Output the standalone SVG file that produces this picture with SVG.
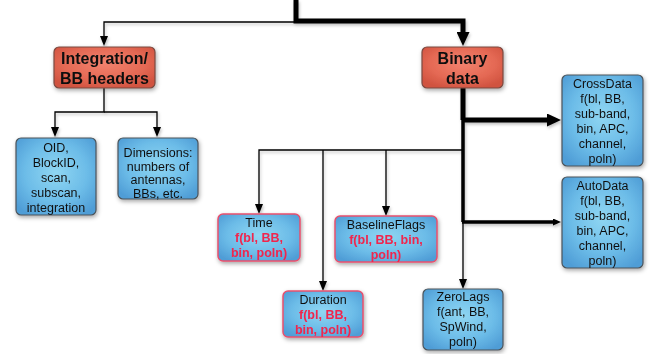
<svg xmlns="http://www.w3.org/2000/svg" width="652" height="354" viewBox="0 0 652 354">
  <defs>
    <radialGradient id="gBlue" cx="50%" cy="45%" r="65%">
      <stop offset="0" stop-color="#8fd6f2"/>
      <stop offset="0.6" stop-color="#6cbce8"/>
      <stop offset="1" stop-color="#4f9dd6"/>
    </radialGradient>
    <radialGradient id="gRed" cx="50%" cy="40%" r="65%">
      <stop offset="0" stop-color="#f2826e"/>
      <stop offset="0.6" stop-color="#e56a55"/>
      <stop offset="1" stop-color="#d0523f"/>
    </radialGradient>
    <filter id="shadow" x="-20%" y="-20%" width="150%" height="150%">
      <feDropShadow dx="1" dy="2" stdDeviation="2" flood-color="#000" flood-opacity="0.35"/>
    </filter>
    <filter id="lineShadow" x="-5%" y="-5%" width="110%" height="110%">
      <feDropShadow dx="1" dy="2" stdDeviation="1.5" flood-color="#000" flood-opacity="0.25"/>
    </filter>
    <marker id="arrowThin" viewBox="0 0 10 8" refX="0" refY="4" markerWidth="10" markerHeight="8" markerUnits="userSpaceOnUse" orient="auto">
      <path d="M0,0 L10,4 L0,8 z" fill="#000"/>
    </marker>
    <marker id="arrowThick" viewBox="0 0 14 13" refX="0" refY="6.5" markerWidth="14" markerHeight="13" markerUnits="userSpaceOnUse" orient="auto">
      <path d="M0,0 L14,6.5 L0,13 z" fill="#000"/>
    </marker>
    <marker id="arrowSmall" viewBox="0 0 8 7" refX="0" refY="3.5" markerWidth="8" markerHeight="7" markerUnits="userSpaceOnUse" orient="auto">
      <path d="M0,0 L8,3.5 L0,7 z" fill="#000"/>
    </marker>
  </defs>
  <style>
    .box { filter: url(#shadow); }
    .blue { fill: url(#gBlue); stroke: #4c545a; stroke-width: 1.2; }
    .red { fill: url(#gRed); stroke: #7a4a40; stroke-width: 1.2; }
    .pink { fill: url(#gBlue); stroke: #e8506e; stroke-width: 1.5; }
    text { font-family: "Liberation Sans", Arial, Helvetica, sans-serif; text-anchor: middle; }
    .title { font-size: 16px; font-weight: bold; fill: #111; }
    .lbl { font-size: 12.5px; fill: #111; }
    .fn { font-size: 12.5px; font-weight: bold; fill: #f0254d; }
    .thin { fill: none; stroke: #000; stroke-width: 1.3; }
    .thick { fill: none; stroke: #000; stroke-width: 5; }
    .mid { fill: none; stroke: #000; stroke-width: 3.5; }
  </style>

  <!-- connectors -->
  <g id="connectors" filter="url(#lineShadow)">
    <path class="thin" d="M296,22 H104 V36" marker-end="url(#arrowThin)"/>
    <path class="thick" d="M296,0 V21 H463 V32" marker-end="url(#arrowThick)"/>
    <path class="thin" d="M104,88 V112 H55 V127" marker-end="url(#arrowThin)"/>
    <path class="thin" d="M104,112 H157 V127" marker-end="url(#arrowThin)"/>
    <path class="thick" d="M463,88 V120"/>
    <path class="thick" d="M463,120 H547" marker-end="url(#arrowThick)"/>
    <path class="mid" d="M463,118 V222"/>
    <path class="mid" d="M462,222 H553" marker-end="url(#arrowSmall)"/>
    <path class="thin" d="M463,222 V279" marker-end="url(#arrowThin)"/>
    <path class="thin" d="M463,150 H259 V204" marker-end="url(#arrowThin)"/>
    <path class="thin" d="M323,150 V281" marker-end="url(#arrowThin)"/>
    <path class="thin" d="M386,150 V206" marker-end="url(#arrowThin)"/>
  </g>

  <!-- header nodes -->
  <g id="integration" class="box">
    <rect class="red" x="54" y="47" width="101" height="41" rx="5"/>
    <text class="title" x="104.5" y="63.5">Integration/</text>
    <text class="title" x="104.5" y="83.5">BB headers</text>
  </g>
  <g id="binary" class="box">
    <rect class="red" x="422" y="47" width="81" height="41" rx="5"/>
    <text class="title" x="462.5" y="63.5">Binary</text>
    <text class="title" x="462.5" y="83.5">data</text>
  </g>

  <!-- integration children -->
  <g id="oid" class="box">
    <rect class="blue" x="16" y="138" width="80" height="77" rx="5"/>
    <text class="lbl" x="56" y="151.5">OID,</text>
    <text class="lbl" x="56" y="166.5">BlockID,</text>
    <text class="lbl" x="56" y="181.5">scan,</text>
    <text class="lbl" x="56" y="196.5">subscan,</text>
    <text class="lbl" x="56" y="211.5">integration</text>
  </g>
  <g id="dimensions" class="box">
    <rect class="blue" x="118" y="138" width="80" height="61" rx="5"/>
    <text class="lbl" x="158" y="157">Dimensions:</text>
    <text class="lbl" x="158" y="170.5">numbers of</text>
    <text class="lbl" x="158" y="184">antennas,</text>
    <text class="lbl" x="158" y="197.5">BBs, etc.</text>
  </g>

  <!-- binary children -->
  <g id="crossdata" class="box">
    <rect class="blue" x="562" y="75" width="81" height="91" rx="5"/>
    <text class="lbl" x="602.5" y="88">CrossData</text>
    <text class="lbl" x="602.5" y="103">f(bl, BB,</text>
    <text class="lbl" x="602.5" y="118">sub-band,</text>
    <text class="lbl" x="602.5" y="133">bin, APC,</text>
    <text class="lbl" x="602.5" y="148">channel,</text>
    <text class="lbl" x="602.5" y="163">poln)</text>
  </g>
  <g id="autodata" class="box">
    <rect class="blue" x="562" y="177" width="81" height="91" rx="5"/>
    <text class="lbl" x="602.5" y="189.5">AutoData</text>
    <text class="lbl" x="602.5" y="204.5">f(bl, BB,</text>
    <text class="lbl" x="602.5" y="219.5">sub-band,</text>
    <text class="lbl" x="602.5" y="234.5">bin, APC,</text>
    <text class="lbl" x="602.5" y="249.5">channel,</text>
    <text class="lbl" x="602.5" y="264.5">poln)</text>
  </g>
  <g id="time" class="box">
    <rect class="pink" x="218" y="214" width="82" height="47" rx="5"/>
    <text class="lbl" x="259" y="227">Time</text>
    <text class="fn" x="259" y="242">f(bl, BB,</text>
    <text class="fn" x="259" y="257">bin, poln)</text>
  </g>
  <g id="baselineflags" class="box">
    <rect class="pink" x="335" y="216" width="102" height="46" rx="5"/>
    <text class="lbl" x="386" y="229">BaselineFlags</text>
    <text class="fn" x="386" y="244">f(bl, BB, bin,</text>
    <text class="fn" x="386" y="259">poln)</text>
  </g>
  <g id="duration" class="box">
    <rect class="pink" x="283" y="291" width="80" height="46" rx="5"/>
    <text class="lbl" x="323" y="304">Duration</text>
    <text class="fn" x="323" y="319">f(bl, BB,</text>
    <text class="fn" x="323" y="334">bin, poln)</text>
  </g>
  <g id="zerolags" class="box">
    <rect class="blue" x="423" y="289" width="80" height="61" rx="5"/>
    <text class="lbl" x="463" y="301">ZeroLags</text>
    <text class="lbl" x="463" y="316">f(ant, BB,</text>
    <text class="lbl" x="463" y="331">SpWind,</text>
    <text class="lbl" x="463" y="346">poln)</text>
  </g>
</svg>
